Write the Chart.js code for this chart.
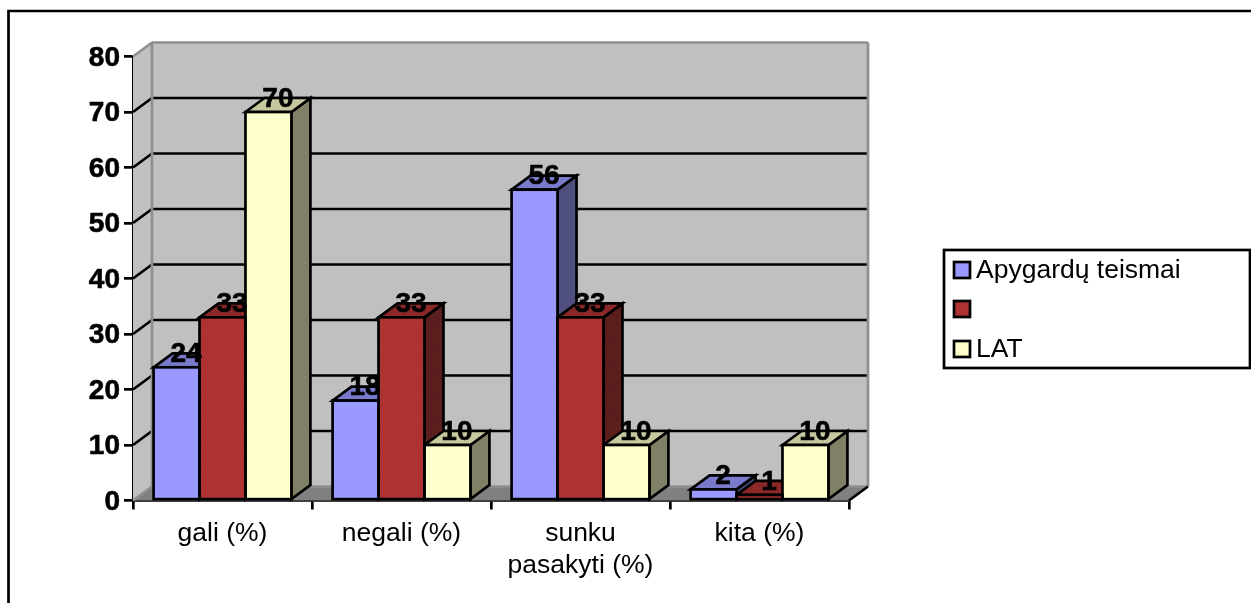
<!DOCTYPE html>
<html>
<head>
<meta charset="utf-8">
<style>
  html, body { margin: 0; padding: 0; background: #fff; }
  canvas { display: block; }
</style>
<script src="https://cdn.jsdelivr.net/npm/chart.js@4"></script>
</head>
<body>
<canvas id="chart" width="1251" height="603"></canvas>
<script>
const categories = ["gali (%)", "negali (%)", ["sunku", "pasakyti (%)"], "kita (%)"];
const seriesNames = ["Apygardų teismai", "", "LAT"];
const apygarduValues = [24, 18, 56, 2];
const middleValues = [33, 33, 33, 1];
const latValues = [70, 10, 10, 10];
const seriesValues = [apygarduValues, middleValues, latValues];

const FONT = '"Liberation Sans", Arial, sans-serif';
const depthX = 19;
const depthY = -14;
const stroke = 2.7;

// dotted fill used on the dark red bars
function dotted(base, dot) {
    const tile = document.createElement("canvas");
    tile.width = 3;
    tile.height = 3;
    const c = tile.getContext("2d");
    c.fillStyle = base;
    c.fillRect(0, 0, 3, 3);
    c.fillStyle = dot;
    c.fillRect(0, 0, 1, 1);
    c.fillRect(2, 1, 1, 1);
    c.fillRect(1, 2, 1, 1);
    return c.createPattern(tile, "repeat");
}

const frontFills = ["#9999ff", dotted("#b33636", "#a52a2a"), "#ffffcc"];
const topFills = ["#7a7acc", dotted("#8f2b2b", "#842222"), "#c8c8a0"];
const sideFills = ["#4f4f80", dotted("#5f2020", "#541a1a"), "#808066"];

function poly(ctx, points, fill, color, width) {
    ctx.beginPath();
    points.forEach((p, i) => i ? ctx.lineTo(p[0], p[1]) : ctx.moveTo(p[0], p[1]));
    ctx.closePath();
    if (fill) {
        ctx.fillStyle = fill;
        ctx.fill();
    }
    if (color) {
        ctx.strokeStyle = color;
        ctx.lineWidth = width;
        ctx.stroke();
    }
}

function line(ctx, x0, y0, x1, y1, color, width) {
    ctx.beginPath();
    ctx.moveTo(x0, y0);
    ctx.lineTo(x1, y1);
    ctx.strokeStyle = color;
    ctx.lineWidth = width;
    ctx.stroke();
}

// outer border, cut off by the right and bottom of the page
const framePlugin = {
    id: "frame",
    beforeDraw(chart) {
        const ctx = chart.ctx;
        ctx.save();
        ctx.beginPath();
        ctx.moveTo(8.5, chart.height + 2);
        ctx.lineTo(8.5, 11);
        ctx.lineTo(chart.width + 2, 11);
        ctx.strokeStyle = "#000";
        ctx.lineWidth = stroke;
        ctx.stroke();
        ctx.restore();
    }
};

// walls, floor and the depth faces of the bars, all behind the bar fronts
const depthPlugin = {
    id: "depth",
    beforeDatasetsDraw(chart) {
        const ctx = chart.ctx;
        const { left, right, top, bottom } = chart.chartArea;
        const edge = "#8f8f8f";
        ctx.save();

        poly(ctx, [[left, top], [left + depthX, top + depthY], [left + depthX, bottom + depthY], [left, bottom]], "#c0c0c0");
        poly(ctx, [[left + depthX, top + depthY], [right + depthX, top + depthY], [right + depthX, bottom + depthY], [left + depthX, bottom + depthY]], "#c0c0c0");
        poly(ctx, [[left, bottom], [left + depthX, bottom + depthY], [right + depthX, bottom + depthY], [right, bottom]], "#808080");

        const yScale = chart.scales.y;
        yScale.ticks.forEach(tick => {
            if (tick.value === 0 || tick.value === yScale.max) return;
            const y = yScale.getPixelForValue(tick.value);
            line(ctx, left, y, left + depthX, y + depthY, "#000", stroke);
            line(ctx, left + depthX, y + depthY, right + depthX, y + depthY, "#000", stroke);
        });

        line(ctx, left, top, left + depthX, top + depthY, edge, stroke);
        line(ctx, left + depthX, top + depthY, right + depthX, top + depthY, edge, stroke);
        line(ctx, left + depthX, top + depthY, left + depthX, bottom + depthY, edge, stroke);
        line(ctx, right + depthX, top + depthY, right + depthX, bottom + depthY, edge, stroke);
        line(ctx, left + depthX, bottom + depthY, right + depthX, bottom + depthY, edge, stroke);
        line(ctx, left, bottom, left + depthX, bottom + depthY, edge, stroke);
        line(ctx, right, bottom, right + depthX, bottom + depthY, "#000", stroke);

        // left to right, so a later bar's faces cover what sits behind them
        categories.forEach((_, index) => {
            seriesValues.forEach((_, s) => {
                const bar = chart.getDatasetMeta(s).data[index];
                const x0 = bar.x - bar.width / 2;
                const x1 = bar.x + bar.width / 2;
                poly(ctx, [[x1, bar.y], [x1 + depthX, bar.y + depthY], [x1 + depthX, bar.base + depthY], [x1, bar.base]], sideFills[s], "#000", stroke);
                poly(ctx, [[x0, bar.y], [x0 + depthX, bar.y + depthY], [x1 + depthX, bar.y + depthY], [x1, bar.y]], topFills[s], "#000", stroke);
            });
        });
        ctx.restore();
    },
    afterDatasetsDraw(chart) {
        const ctx = chart.ctx;
        ctx.save();
        seriesValues.forEach((_, s) => {
            chart.getDatasetMeta(s).data.forEach(bar => {
                ctx.strokeStyle = "#000";
                ctx.lineWidth = stroke;
                ctx.strokeRect(bar.x - bar.width / 2, bar.y, bar.width, bar.base - bar.y);
            });
        });

        // value labels sit over the top face of each bar
        ctx.font = `bold 28px ${FONT}`;
        ctx.fillStyle = "#000";
        ctx.strokeStyle = "#000";
        ctx.lineWidth = 0.6;
        ctx.textAlign = "center";
        ctx.textBaseline = "middle";
        seriesValues.forEach((values, s) => {
            chart.getDatasetMeta(s).data.forEach((bar, i) => {
                ctx.fillText(String(values[i]), bar.x + depthX / 2, bar.y - 13);
                ctx.strokeText(String(values[i]), bar.x + depthX / 2, bar.y - 13);
            });
        });
        ctx.restore();
    }
};

// boxed key on the right
const keyPlugin = {
    id: "key",
    afterDraw(chart) {
        const ctx = chart.ctx;
        const rows = [270, 309, 349];
        ctx.save();
        ctx.strokeStyle = "#000";
        ctx.lineWidth = stroke;
        ctx.fillStyle = "#fff";
        ctx.fillRect(944, 250, 307, 118);
        ctx.strokeRect(944, 250, 306, 118);
        ctx.font = `26.5px ${FONT}`;
        ctx.textAlign = "left";
        ctx.textBaseline = "middle";
        seriesNames.forEach((name, s) => {
            ctx.fillStyle = frontFills[s];
            ctx.fillRect(954, rows[s] - 8, 16, 16);
            ctx.strokeRect(954, rows[s] - 8, 16, 16);
            ctx.fillStyle = "#000";
            ctx.fillText(name, 976, rows[s] + 1);
        });
        ctx.restore();
    }
};

new Chart(document.getElementById("chart"), {
    type: "bar",
    data: {
        labels: categories,
        datasets: seriesValues.map((values, s) => ({
            label: seriesNames[s],
            data: values,
            backgroundColor: frontFills[s],
            borderWidth: 0,
            categoryPercentage: 0.77,
            barPercentage: 1
        }))
    },
    options: {
        responsive: false,
        animation: false,
        layout: { padding: { left: 0, right: 402, top: 56.5, bottom: 0 } },
        plugins: { legend: { display: false }, tooltip: { enabled: false } },
        scales: {
            x: {
                afterFit(scale) { scale.height = 102.5; },
                border: { color: "#000", width: stroke },
                grid: { drawOnChartArea: false, color: "#000", lineWidth: stroke, tickLength: 9 },
                ticks: {
                    color: "#000",
                    padding: 8,
                    maxRotation: 0,
                    autoSkip: false,
                    font: { family: FONT, size: 26.5, lineHeight: 1.21 }
                }
            },
            y: {
                min: 0,
                max: 80,
                afterFit(scale) { scale.width = 133; },
                border: { color: "#000", width: stroke },
                grid: { drawOnChartArea: false, color: "#000", lineWidth: stroke, tickLength: 9 },
                ticks: {
                    stepSize: 10,
                    color: "#000",
                    padding: 4,
                    labelOffset: 1.5,
                    textStrokeColor: "#000",
                    textStrokeWidth: 0.6,
                    font: { family: FONT, size: 28, weight: "bold" }
                }
            }
        }
    },
    plugins: [framePlugin, depthPlugin, keyPlugin]
});
</script>
</body>
</html>
